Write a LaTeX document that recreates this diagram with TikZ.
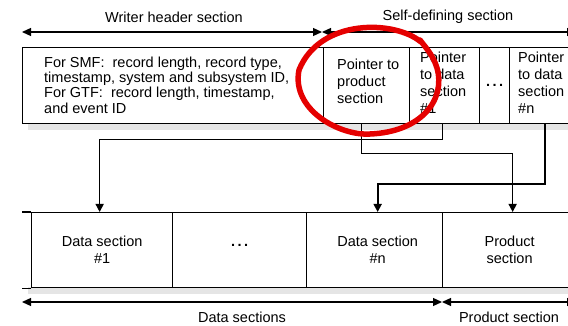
\documentclass[tikz,border=0pt]{standalone}
\usepackage{fontspec}
\setmainfont{Liberation Sans}
\usetikzlibrary{arrows.meta}
\begin{document}
\begin{tikzpicture}[x=1pt,y=-1pt,
  cell/.style={draw,line width=1.3pt,minimum height=#1,inner sep=0pt,anchor=north west},
  cell/.default=76pt,
  txt/.style={font=\fontsize{14.5}{17}\selectfont,inner sep=0pt,align=left},
  ctxt/.style={font=\fontsize{14.5}{17}\selectfont,inner sep=0pt,align=center},
  conn/.style={line width=1.4pt,-{Triangle[length=8pt,width=8pt]}},
  dim/.style={line width=1.3pt,{Triangle[length=9pt,width=8pt]}-{Triangle[length=9pt,width=8pt]}},
  shadow/.style={fill=black!10,draw=none}
]
\useasboundingbox (0,0) rectangle (568,326);
% shadows
\fill[shadow] (28,123) rectangle (570,130);
\fill[shadow] (28,287) rectangle (570,294);
% top dimension lines
\coordinate (tl) at (22,32);
\coordinate (tm) at (322,32);
\coordinate (tr) at (576,32);
\draw[dim] (tl) -- (tm);
\draw[dim] (tm) -- (tr);
\node[ctxt] (lwh) at (174,17) {Writer header section};
\node[ctxt] (lsd) at (448,17) {Self-defining section};
% top box cells
\node[cell,minimum width=301pt] (wh) at (22,47) {};
\node[cell,minimum width=86pt] (pp) at (323,47) {};
\node[cell,minimum width=70pt] (p1) at (409,47) {};
\node[cell,minimum width=30pt] (pd) at (479,47) {};
\node[cell,minimum width=62pt] (pn) at (509,47) {};
\node[txt,anchor=north west,font=\fontsize{14.5}{15.3}\selectfont] (twh) at (44,56.5)
  {For SMF:\ \ record length, record type,\\timestamp, system and subsystem ID,\\For GTF:\ \ record length, timestamp,\\and event ID};
\node[txt,anchor=north west] (tpp) at (337,59) {Pointer to\\product\\section};
\node[txt,anchor=north west] (tp1) at (420,52) {Pointer\\to data\\section\\\#1};
\node[ctxt] (tpd) at (pd.center) {\textbf{.\,.\,.}};
\node[txt,anchor=north west] (tpn) at (518,52) {Pointer\\to data\\section\\\#n};
% bottom box
\node[cell=75pt,minimum width=141pt] (ds1) at (31,212) {};
\node[cell=75pt,minimum width=134pt] (dsd) at (172,212) {};
\node[cell=75pt,minimum width=136pt] (dsn) at (306,212) {};
\node[cell=75pt,minimum width=130pt] (prod) at (442,212) {};
\draw[line width=1.3pt] (ds1.north west) -- ++(-9,0);
\draw[line width=1.3pt] (ds1.south west) -- ++(-9,0);
\node[ctxt] (tds1) at (ds1.center) {Data section\\\#1};
\node[ctxt] (tdsd) at ([yshift=4.5pt]dsd.center) {\textbf{.\,.\,.}};
\node[ctxt] (tdsn) at ([xshift=3pt]dsn.center) {Data section\\\#n};
\node[ctxt] (tprod) at ([xshift=2pt]prod.center) {Product\\section};
% connectors
\draw[conn] ([xshift=-5pt]pp.south) -- ++(0,29) -| ([xshift=5pt]prod.north);
\draw[conn] ([xshift=-2pt]p1.south) -- ++(0,15) -| ([xshift=-2.5pt]ds1.north);
\draw[conn,line width=1.8pt] ([xshift=4.5pt]pn.south) -- ++(0,60) -| ([xshift=3pt]dsn.north);
% bottom dimension lines
\coordinate (bl) at (22,302);
\coordinate (bm) at (442,302);
\coordinate (br) at (576,302);
\draw[dim] (bl) -- (bm);
\draw[dim] (bm) -- (br);
\node[ctxt] (lds) at (242,317) {Data sections};
\node[ctxt] (lps) at (509,317) {Product section};
% red circle
\draw[red!90!black,line width=5.5pt,line cap=round]
  (421,42) .. controls (395,20) and (320,18) .. (299,70)
  .. controls (291,110) and (340,136) .. (370,134)
  .. controls (421,132) and (446,100) .. (437,68)
  .. controls (433,55) and (426,48) .. (420,40);
\end{tikzpicture}
\end{document}
